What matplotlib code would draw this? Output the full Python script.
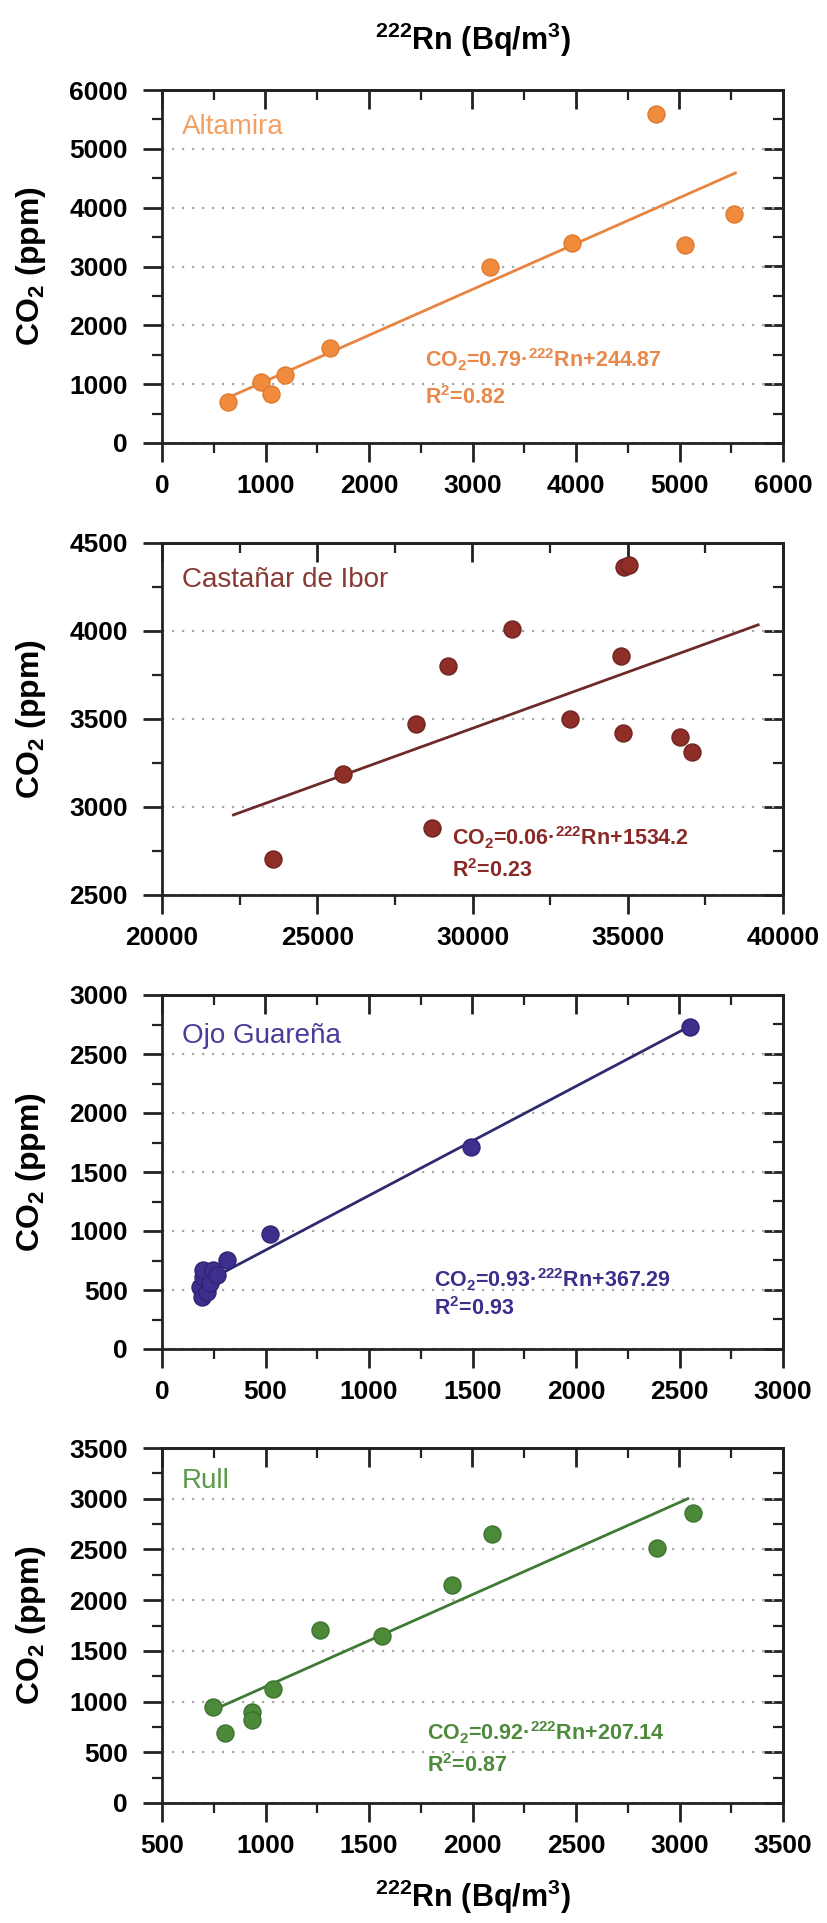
import matplotlib
matplotlib.use("Agg")
import matplotlib.pyplot as plt
from matplotlib.ticker import MultipleLocator, AutoMinorLocator

plt.rcParams["font.family"] = ["Liberation Sans", "DejaVu Sans"]
plt.rcParams["mathtext.fontset"] = "custom"
plt.rcParams["mathtext.rm"] = "Liberation Sans"
plt.rcParams["mathtext.bf"] = "Liberation Sans:bold"

# Data (Rn in Bq/m3, CO2 in ppm)
sites = ["Altamira", "Castañar de Ibor", "Ojo Guareña", "Rull"]

altamira_rn = [638, 955, 1057, 1190, 1619, 3166, 3958, 4775, 5056, 5531]
altamira_co2 = [690, 1040, 830, 1150, 1610, 3000, 3400, 5590, 3370, 3890]

castanar_rn = [23570, 25820, 28170, 28680, 29220, 31270, 33140, 34770, 34840, 34890, 35030, 36680, 37070]
castanar_co2 = [2705, 3190, 3470, 2880, 3800, 4010, 3500, 3860, 3420, 4365, 4377, 3400, 3315]

ojo_rn = [184, 191, 200, 200, 216, 231, 247, 264, 314, 522, 1494, 2553]
ojo_co2 = [525, 441, 610, 670, 483, 559, 670, 627, 754, 975, 1710, 2725]

rull_rn = [746, 804, 935, 935, 1037, 1261, 1565, 1899, 2096, 2892, 3066]
rull_co2 = [947, 690, 897, 818, 1125, 1709, 1650, 2152, 2655, 2514, 2859]

# fitted line end points
fit_rn = [[650, 5540], [22300, 39200], [200, 2560], [745, 3040]]
fit_co2 = [[780, 4590], [2955, 4035], [560, 2745], [915, 3000]]

equations = [
    "CO$_\\mathbf{2}$=0.79·$^{\\mathbf{222}}$Rn+244.87",
    "CO$_\\mathbf{2}$=0.06·$^{\\mathbf{222}}$Rn+1534.2",
    "CO$_\\mathbf{2}$=0.93·$^{\\mathbf{222}}$Rn+367.29",
    "CO$_\\mathbf{2}$=0.92·$^{\\mathbf{222}}$Rn+207.14",
]
r2_labels = ["R$^\\mathbf{2}$=0.82", "R$^\\mathbf{2}$=0.23", "R$^\\mathbf{2}$=0.93", "R$^\\mathbf{2}$=0.87"]

x_limits = [(0, 6000), (20000, 40000), (0, 3000), (500, 3500)]
x_steps = [1000, 5000, 500, 500]
y_limits = [(0, 6000), (2500, 4500), (0, 3000), (0, 3500)]
y_steps = [1000, 500, 500, 500]

xs = [altamira_rn, castanar_rn, ojo_rn, rull_rn]
ys = [altamira_co2, castanar_co2, ojo_co2, rull_co2]

marker_colors = ["#F08A3C", "#8E2E26", "#3D2F8E", "#4C8A3A"]
edge_colors = ["#E07A30", "#6E2420", "#2E2470", "#3C7230"]
line_colors = ["#E8843E", "#6E2A2A", "#2E2A6E", "#3E7A34"]
name_colors = ["#F2A064", "#8A3A35", "#4A3C9A", "#5A9A48"]
eq_colors = ["#E8884A", "#8A2A28", "#3C2E8A", "#4E8A3C"]

# layout in pixels (figure is 827 x 1923)
W, H = 827, 1923
ax_left, ax_right = 162, 783
ax_tops = [90, 543, 995, 1448]
ax_bottoms = [443, 895, 1349, 1803]
name_y = [0.875, 0.875, 0.865, 0.887]
eq_pos = [(0.424, 0.215), (0.467, 0.142), (0.438, 0.175), (0.427, 0.177)]
r2_pos = [(0.424, 0.11), (0.467, 0.051), (0.438, 0.096), (0.427, 0.087)]

fig = plt.figure(figsize=(W / 100, H / 100), dpi=100)

dark = "#222222"

for i in range(4):
    ax = fig.add_axes([ax_left / W, 1 - ax_bottoms[i] / H,
                       (ax_right - ax_left) / W, (ax_bottoms[i] - ax_tops[i]) / H])
    ax.plot(fit_rn[i], fit_co2[i], color=line_colors[i], lw=2.0, zorder=2)
    ax.scatter(xs[i], ys[i], s=150, color=marker_colors[i], edgecolors=edge_colors[i],
               linewidths=1.0, zorder=3)

    ax.set_xlim(*x_limits[i])
    ax.set_ylim(*y_limits[i])
    ax.xaxis.set_major_locator(MultipleLocator(x_steps[i]))
    ax.yaxis.set_major_locator(MultipleLocator(y_steps[i]))
    ax.xaxis.set_minor_locator(AutoMinorLocator(2))
    ax.yaxis.set_minor_locator(AutoMinorLocator(2))
    ax.tick_params(which="major", direction="out", length=14, width=2, color=dark, labelsize=19)
    ax.tick_params(which="minor", direction="out", length=7, width=1.6, color=dark)
    ax.tick_params(axis="x", which="major", pad=8.5)
    ax.tick_params(axis="y", which="major", pad=10.5)
    for lab in ax.get_xticklabels() + ax.get_yticklabels():
        lab.set_fontweight("bold")

    # top / right ticks pointing inward
    top = ax.secondary_xaxis("top")
    top.xaxis.set_major_locator(MultipleLocator(x_steps[i]))
    top.xaxis.set_minor_locator(AutoMinorLocator(2))
    top.tick_params(which="major", direction="in", length=14, width=2, color=dark, labeltop=False)
    top.tick_params(which="minor", direction="in", length=7, width=1.6, color=dark)
    right = ax.secondary_yaxis("right")
    right.yaxis.set_major_locator(MultipleLocator(y_steps[i]))
    right.yaxis.set_minor_locator(AutoMinorLocator(2))
    right.tick_params(which="major", direction="in", length=14, width=2, color=dark, labelright=False)
    right.tick_params(which="minor", direction="in", length=7, width=1.6, color=dark)
    for sp in list(ax.spines.values()) + [top.spines["top"], right.spines["right"]]:
        sp.set_linewidth(2.0)
        sp.set_color(dark)

    ax.grid(axis="y", which="major", color="#A8A8A8", lw=1.6, linestyle=(0, (1, 3.5)))
    ax.set_axisbelow(True)

    ax.set_ylabel("CO$_\\mathbf{2}$ (ppm)", fontsize=23, fontweight="bold")
    ax.yaxis.set_label_coords(-0.183, 0.5)

    ax.text(0.032, name_y[i], sites[i], transform=ax.transAxes, fontsize=20,
            color=name_colors[i], va="baseline", ha="left")
    ax.text(eq_pos[i][0], eq_pos[i][1], equations[i], transform=ax.transAxes, fontsize=15.5,
            fontweight="bold", color=eq_colors[i], va="baseline", ha="left")
    ax.text(r2_pos[i][0], r2_pos[i][1], r2_labels[i], transform=ax.transAxes, fontsize=15.5,
            fontweight="bold", color=eq_colors[i], va="baseline", ha="left")

rn_label = "$^{\\mathbf{222}}$Rn (Bq/m$^{\\mathbf{3}}$)"
cx = (ax_left + ax_right) / 2 / W
fig.text(cx, 1 - 40 / H, rn_label, fontsize=22, fontweight="bold", ha="center", va="center")
fig.text(cx, 1 - 1897 / H, rn_label, fontsize=22, fontweight="bold", ha="center", va="center")

fig.savefig("out.png", dpi=100)
